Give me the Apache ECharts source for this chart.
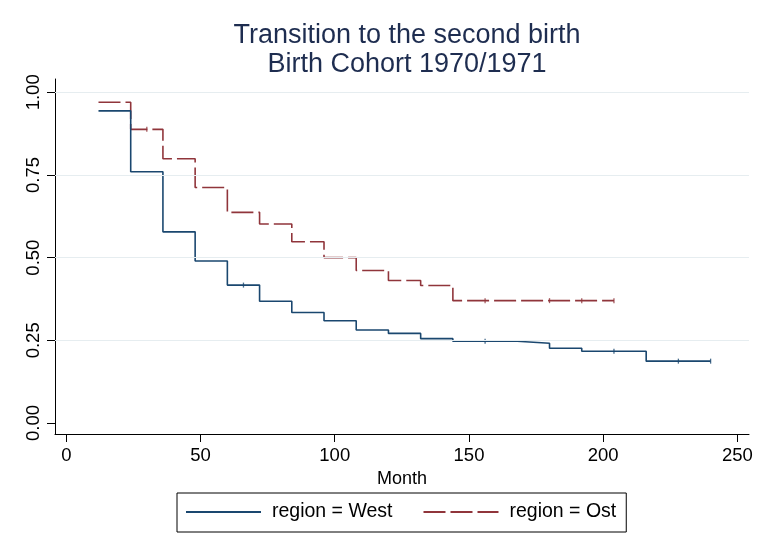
<!DOCTYPE html>
<html>
<head>
<meta charset="utf-8">
<script src="https://cdn.jsdelivr.net/npm/echarts@6/dist/echarts.min.js"></script>
<style>html,body{margin:0;padding:0;background:#fff;}#chart{width:768px;height:559px;}</style>
</head>
<body>
<div id="chart"></div>
<script>
// Kaplan-Meier step data: survivor value holds from time[i] to time[i+1]
var westTimes = [12, 24, 36, 48, 60, 72, 84, 96, 108, 120, 132, 144, 168, 180, 192, 216, 240];
var westSurv  = [0.944, 0.760, 0.578, 0.490, 0.417, 0.368, 0.334, 0.309, 0.281, 0.271, 0.255, 0.247, 0.241, 0.226, 0.217, 0.187, 0.187];
var ostTimes  = [12, 24, 36, 48, 60, 72, 84, 96, 108, 120, 132, 144, 204];
var ostSurv   = [0.970, 0.888, 0.799, 0.712, 0.637, 0.602, 0.548, 0.500, 0.461, 0.431, 0.416, 0.370, 0.370];
var westCensor = [66, 156, 204, 228, 240];
var ostCensor  = [30, 156, 180, 192, 204];
var xTicks = [0, 50, 100, 150, 200, 250];
var yTicks = [0, 0.25, 0.5, 0.75, 1];
var gridValues = [0.25, 0.5, 0.75, 1];
var westName = 'region = West';
var ostName = 'region = Ost';

function pairs(t, v) { return t.map(function (x, i) { return [x, v[i]]; }); }
function stepAt(t, v, m) {
  var val = v[0];
  for (var i = 0; i < t.length; i++) { if (t[i] <= m) val = v[i]; }
  return val;
}
function censorPts(c, t, v) { return c.map(function (m) { return [m, stepAt(t, v, m)]; }); }

var FONT = '"Liberation Sans", Arial, sans-serif';
var BLUE = '#1a476f', RED = '#90353b';

var chart = echarts.init(document.getElementById('chart'), null, {renderer: 'canvas'});
chart.setOption({
  animation: false,
  backgroundColor: '#fff',
  title: {
    text: 'Transition to the second birth\nBirth Cohort 1970/1971',
    left: 402, top: 16, textAlign: 'center',
    textStyle: {fontFamily: FONT, fontSize: 27, lineHeight: 29, fontWeight: 'normal', color: '#1e2d50'}
  },
  legend: {
    data: [westName, ostName],
    left: 177, top: 493,
    orient: 'horizontal',
    itemWidth: 75, itemHeight: 14, itemGap: 30,
    borderColor: '#000', borderWidth: 1,
    padding: [9, 10, 10, 8],
    itemStyle: {opacity: 0},
    textStyle: {fontFamily: FONT, fontSize: 19.5, color: '#000', padding: [0, 0, 0, 6]}
  },
  grid: {left: 55, right: 19, top: 79, bottom: 125, containLabel: false},
  xAxis: {
    type: 'value', min: -4.2, max: 254.3,
    name: 'Month', nameLocation: 'middle', nameGap: 30,
    nameTextStyle: {fontFamily: FONT, fontSize: 18, color: '#000'},
    axisLine: {show: true, onZero: false, lineStyle: {color: '#000', width: 1}},
    axisTick: {show: true, length: 8, customValues: xTicks, lineStyle: {color: '#000'}},
    axisLabel: {customValues: xTicks, margin: 12, fontFamily: FONT, fontSize: 18.5, color: '#000'},
    splitLine: {show: false}
  },
  yAxis: {
    type: 'value', min: -0.0333, max: 1.0403,
    axisLine: {show: true, onZero: false, lineStyle: {color: '#000', width: 1}},
    axisTick: {show: true, length: 8, customValues: yTicks, lineStyle: {color: '#000'}},
    axisLabel: {customValues: yTicks, rotate: 90, margin: 12, fontFamily: FONT, fontSize: 18.5, color: '#000',
      formatter: function (v) { return v.toFixed(2); }},
    splitLine: {show: false}
  },
  series: [
    {
      type: 'line', name: 'grid', data: [], z: 1, silent: true,
      markLine: {
        silent: true, symbol: ['none', 'none'], label: {show: false},
        lineStyle: {color: '#e6edf0', width: 1, type: 'solid'},
        data: gridValues.map(function (g) { return {yAxis: g}; })
      }
    },
    {
      type: 'line', name: westName, step: 'end', symbol: 'none', z: 3,
      data: pairs(westTimes, westSurv),
      lineStyle: {color: BLUE, width: 1.6, type: 'solid'},
      itemStyle: {color: BLUE}
    },
    {
      type: 'line', name: ostName, step: 'end', symbol: 'none', z: 2,
      data: pairs(ostTimes, ostSurv),
      lineStyle: {color: RED, width: 1.6, type: [22, 5]},
      itemStyle: {color: RED}
    },
    {
      type: 'scatter', name: 'westCensor', symbol: 'rect', symbolSize: [1.3, 5], z: 4, silent: true,
      data: censorPts(westCensor, westTimes, westSurv), itemStyle: {color: BLUE}
    },
    {
      type: 'scatter', name: 'ostCensor', symbol: 'rect', symbolSize: [1.3, 5], z: 4, silent: true,
      data: censorPts(ostCensor, ostTimes, ostSurv), itemStyle: {color: RED}
    }
  ]
});
</script>
</body>
</html>
